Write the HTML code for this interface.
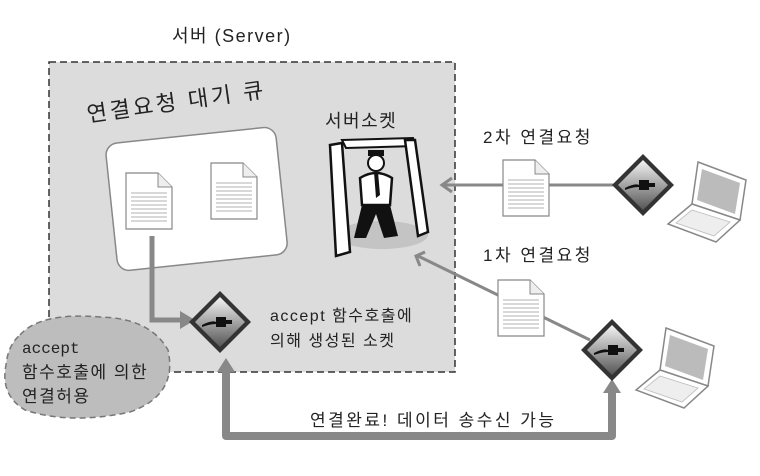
<!DOCTYPE html>
<html><head><meta charset="utf-8"><style>
body{margin:0;background:#fff;width:760px;height:471px;overflow:hidden;font-family:"Liberation Sans","Noto Sans CJK KR",sans-serif;}
svg text{font-family:"Liberation Sans","Noto Sans CJK KR",sans-serif;fill:#222;letter-spacing:1.5px}
</style></head><body>
<svg width="760" height="471" viewBox="0 0 760 471">
<defs>
<g id="doc">
<path d="M0 0 H32 L46 14 V56 H0 Z" fill="#fff" stroke="#888" stroke-width="1.2"/>
<path d="M32 0 V14 H46" fill="#eee" stroke="#888"/>
<g stroke="#999" stroke-width="0.8">
<line x1="5" y1="20" x2="41" y2="20"/><line x1="5" y1="24" x2="41" y2="24"/><line x1="5" y1="28" x2="41" y2="28"/><line x1="5" y1="32" x2="41" y2="32"/><line x1="5" y1="36" x2="41" y2="36"/><line x1="5" y1="40" x2="41" y2="40"/><line x1="5" y1="44" x2="41" y2="44"/><line x1="5" y1="48" x2="41" y2="48"/></g>
</g>
<linearGradient id="dg" x1="0" y1="0" x2="0" y2="1"><stop offset="0" stop-color="#f4f4f4"/><stop offset="1" stop-color="#555"/></linearGradient>
<g id="dia">
<path d="M0 -31 L31 0 L0 31 L-31 0 Z" fill="#333"/>
<path d="M0 -25 L25 0 L0 25 L-25 0 Z" fill="url(#dg)"/>
<path d="M-18 3 Q-8 -2 -4 0 L-4 -5 H6 L6 -2 H12 V2 H6 V5 H-4 L-4 2 Q-10 2 -18 5 Z" fill="#111"/>
</g>
<g id="lap">
<path d="M30 0 L78 18 L72 58 L24 42 Z" fill="#fff" stroke="#888" stroke-width="1.5"/>
<path d="M34 7 L72 21 L67 52 L29 38 Z" fill="#bbb"/>
<path d="M24 42 L72 58 L48 80 L0 62 Z" fill="#fff" stroke="#888" stroke-width="1.5"/>
<path d="M24 48 L62 60 L46 74 L8 61 Z" fill="#eee" stroke="#bbb" stroke-width="0.8"/>
</g>
</defs>
<text x="172" y="42" font-size="18">서버 (Server)</text>
<rect x="49" y="62" width="406" height="310" fill="#dcdcdc" stroke="#333" stroke-width="1.5" stroke-dasharray="7,4"/>
<g transform="rotate(-6 196 198)">
<rect x="111" y="135" width="171" height="128" rx="12" fill="#fff" stroke="#888" stroke-width="1.5"/>
</g>
<text x="88" y="122" font-size="22" style="letter-spacing:3px" transform="rotate(-8 88 122)">연결요청 대기 큐</text>
<use href="#doc" x="126" y="173"/>
<use href="#doc" x="211" y="163"/>
<text x="325" y="127" font-size="18">서버소켓</text>
<ellipse cx="382" cy="235" rx="46" ry="14" fill="#c4c4c4"/>
<path d="M330 145 L342 143 L350 252 L336 256 Z" fill="#fff" stroke="#111" stroke-width="2.5"/>
<path d="M342 140 L413 138 L415 146 L346 148 Z" fill="#fff" stroke="#111" stroke-width="2"/>
<path d="M405 140 L415 140 L428 232 L418 236 Z" fill="#fff" stroke="#111" stroke-width="2.5"/>
<circle cx="376" cy="163" r="8" fill="#fff" stroke="#111" stroke-width="2"/>
<rect x="368" y="150" width="16" height="6" fill="#111"/>
<path d="M360 178 Q376 168 392 178 L390 205 L362 205 Z" fill="#fff" stroke="#111" stroke-width="2.5"/>
<path d="M362 205 L354 238 L366 238 L376 214 L384 238 L398 236 L390 205 Z" fill="#111"/>
<path d="M374 172 L378 172 L380 195 L376 198 Z" fill="#111"/>
<path d="M152 236 V320 H180" fill="none" stroke="#888" stroke-width="5"/>
<path d="M180 311 L195 320 L180 329 Z" fill="#888"/>
<use href="#dia" x="220" y="322"/>
<text x="270" y="321" font-size="16">accept 함수호출에</text>
<text x="270" y="346" font-size="16">의해 생성된 소켓</text>
<path d="M20 335 Q40 312 100 317 Q150 318 168 350 Q178 395 130 412 Q70 425 25 410 Q0 395 6 365 Q8 345 20 335 Z" fill="#bdbdbd" stroke="#777" stroke-width="1.5" stroke-dasharray="6,4"/>
<text x="22" y="353" font-size="16" style="font-family:'Liberation Mono',monospace;letter-spacing:0">accept</text>
<text x="22" y="378" font-size="17">함수호출에 의한</text>
<text x="22" y="402" font-size="17">연결허용</text>
<path d="M226 370 V436 H612 V392" fill="none" stroke="#888" stroke-width="8" stroke-linejoin="round"/>
<path d="M217 372 L226 358 L235 372 Z" fill="#888"/>
<path d="M603 393 L612 379 L621 393 Z" fill="#888"/>
<text x="310" y="426" font-size="17" style="letter-spacing:2.5px">연결완료! 데이터 송수신 가능</text>
<text x="483" y="143" font-size="17" style="letter-spacing:2.5px">2차 연결요청</text>
<line x1="444" y1="185" x2="615" y2="185" stroke="#888" stroke-width="3"/>
<path d="M452 178 L442 185 L452 192" fill="none" stroke="#888" stroke-width="3"/>
<use href="#doc" x="503" y="160"/>
<use href="#dia" x="643" y="185"/>
<use href="#lap" x="668" y="162"/>
<text x="483" y="261" font-size="17" style="letter-spacing:2.5px">1차 연결요청</text>
<line x1="418" y1="256" x2="590" y2="340" stroke="#888" stroke-width="3"/>
<path d="M425 252 L416 256 L420 266" fill="none" stroke="#888" stroke-width="3"/>
<use href="#doc" x="498" y="280"/>
<use href="#dia" x="612" y="350"/>
<use href="#lap" x="636" y="328"/>
</svg>
</body></html>
